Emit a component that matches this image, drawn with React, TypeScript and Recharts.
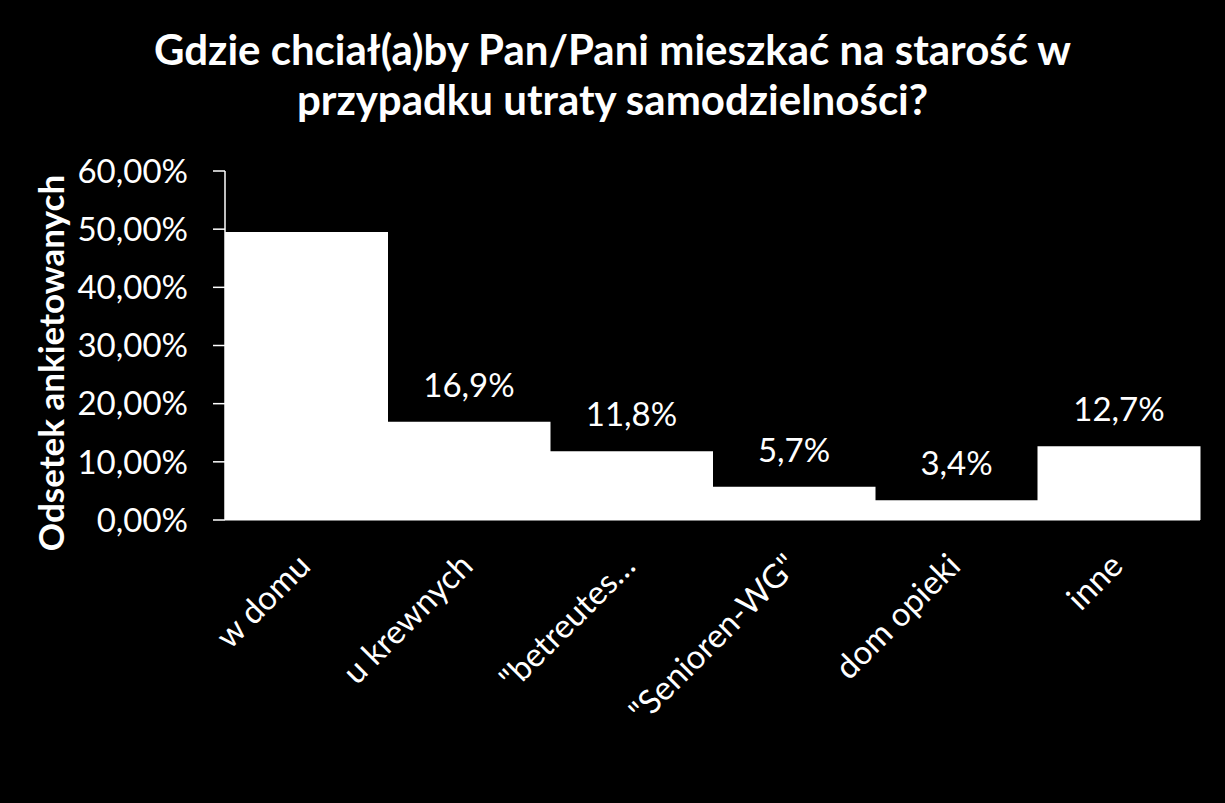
import { BarChart, Bar, XAxis, YAxis, LabelList } from 'recharts'

const categories = ['w domu', 'u krewnych', '"betreutes…', '"Senioren-WG"', 'dom opieki', 'inne']
const shares = [49.5, 16.9, 11.8, 5.7, 3.4, 12.7]
const yTicks = [0, 10, 20, 30, 40, 50, 60]

const FONT = 'Lato, "Open Sans", sans-serif'

const data = categories.map((name, i) => ({ name, share: shares[i] }))

function pct(v: number, digits: number) {
  return v.toFixed(digits).replace('.', ',') + '%'
}

function XTick({ x, y, payload }: any) {
  return (
    <text
      transform={`translate(${x + 6},${y + 40}) rotate(-45)`}
      textAnchor="end"
      fill="#fff"
      fontSize={33}
      fontFamily={FONT}
    >
      {payload.value}
    </text>
  )
}

function ValueLabel({ x, y, width, value, index }: any) {
  // the first bar carries no label in the original
  if (index === 0) return null
  return (
    <text
      x={x + width / 2}
      y={y - 25}
      textAnchor="middle"
      fill="#fff"
      fontSize={33}
      fontFamily={FONT}
    >
      {pct(value, 1)}
    </text>
  )
}

export default function App() {
  return (
    <div
      style={{
        position: 'absolute',
        left: 0,
        top: 0,
        width: 1225,
        height: 803,
        background: '#000',
        fontFamily: FONT,
      }}
    >
      <div
        style={{
          position: 'absolute',
          top: 24,
          left: 0,
          width: 1225,
          textAlign: 'center',
          color: '#fff',
          fontWeight: 700,
          fontSize: 42,
          lineHeight: '50px',
        }}
      >
        Gdzie chciał(a)by Pan/Pani mieszkać na starość w
        <br />
        przypadku utraty samodzielności?
      </div>
      <div
        style={{
          position: 'absolute',
          left: 50,
          top: 363,
          transform: 'translate(-50%, -50%) rotate(-90deg)',
          whiteSpace: 'nowrap',
          color: '#fff',
          fontWeight: 700,
          fontSize: 35,
        }}
      >
        Odsetek ankietowanych
      </div>
      <BarChart
        width={1225}
        height={803}
        data={data}
        margin={{ top: 171, right: 25, bottom: 223, left: 85 }}
        barCategoryGap={0}
        style={{ position: 'absolute', left: 0, top: 0 }}
      >
        <XAxis
          dataKey="name"
          interval={0}
          tickLine={false}
          axisLine={{ stroke: '#fff' }}
          tick={<XTick />}
          height={60}
        />
        <YAxis
          width={140}
          domain={[0, 60]}
          ticks={yTicks}
          tickFormatter={(v: number) => pct(v, 2)}
          axisLine={{ stroke: '#fff', strokeWidth: 1.5 }}
          tickLine={{ stroke: '#fff', strokeWidth: 1.5 }}
          tickSize={12}
          tickMargin={25}
          tick={{ fill: '#fff', fontSize: 33, fontFamily: FONT }}
        />
        <Bar dataKey="share" fill="#fff" isAnimationActive={false}>
          <LabelList dataKey="share" content={<ValueLabel />} />
        </Bar>
      </BarChart>
    </div>
  )
}
